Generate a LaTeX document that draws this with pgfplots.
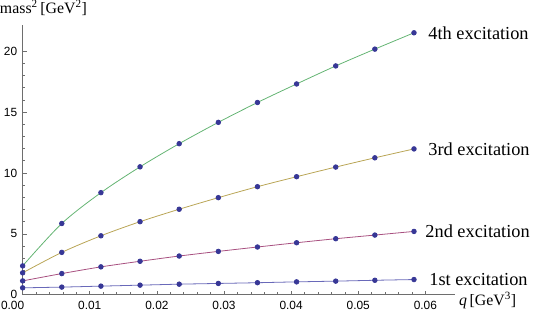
\documentclass[border=0pt]{standalone}
\usepackage{fontspec}
\setmainfont{Liberation Serif}
\setsansfont{Liberation Sans}
\usepackage{pgfplots}
\pgfplotsset{compat=1.18}
\definecolor{c1}{RGB}{105,105,185}
\definecolor{c2}{RGB}{168,80,128}
\definecolor{c3}{RGB}{185,165,85}
\definecolor{c4}{RGB}{100,180,115}
\definecolor{mk}{RGB}{55,55,150}
\definecolor{ax}{RGB}{110,110,110}
\begin{document}
\begin{tikzpicture}
\begin{axis}[
  scale only axis, width=435bp, height=271bp,
  xmin=0, xmax=0.0644, ymin=0, ymax=22.1,
  axis x line*=bottom, axis y line*=left,
  axis line style={ax, line width=0.8bp},
  clip=false,
  scaled x ticks=false, scaled y ticks=false,
  tick align=inside,
  major tick length=4bp, minor tick length=2.5bp,
  every tick/.style={ax, line width=0.6bp},
  xtick={0,0.01,0.02,0.03,0.04,0.05,0.06},
  xticklabels={\llap{0.00\hspace{-1.5bp}},0.01,0.02,0.03,0.04,0.05,0.06},
  ytick={0,5,10,15,20},
  yticklabels={0,5,10,15,20},
  minor x tick num=4, minor y tick num=4,
  ticklabel style={font=\sffamily\fontsize{12}{14}\selectfont, black},
  xticklabel style={yshift=-3bp},
  yticklabel style={xshift=-2bp},
  /pgf/number format/assume math mode=true,
]
\addplot[c1, line width=0.8bp, smooth, mark=*, mark size=2.3bp, mark options={draw=mk, fill=mk}] coordinates {
(0,0.57) (0.00583,0.63) (0.01166,0.71) (0.01749,0.79) (0.02332,0.87) (0.02915,0.93) (0.03498,0.99) (0.04081,1.06) (0.04664,1.12) (0.05247,1.19) (0.0583,1.25)};
\addplot[c2, line width=0.8bp, smooth, mark=*, mark size=2.3bp, mark options={draw=mk, fill=mk}] coordinates {
(0,1.14) (0.00583,1.74) (0.01166,2.29) (0.01749,2.75) (0.02332,3.18) (0.02915,3.56) (0.03498,3.92) (0.04081,4.27) (0.04664,4.60) (0.05247,4.90) (0.0583,5.20)};
\addplot[c3, line width=0.8bp, smooth, mark=*, mark size=2.3bp, mark options={draw=mk, fill=mk}] coordinates {
(0,1.80) (0.00583,3.48) (0.01166,4.84) (0.01749,6.00) (0.02332,7.02) (0.02915,7.97) (0.03498,8.87) (0.04081,9.69) (0.04664,10.48) (0.05247,11.24) (0.0583,11.97)};
\addplot[c4, line width=0.8bp, smooth, mark=*, mark size=2.3bp, mark options={draw=mk, fill=mk}] coordinates {
(0,2.37) (0.00583,5.85) (0.01166,8.38) (0.01749,10.50) (0.02332,12.40) (0.02915,14.15) (0.03498,15.78) (0.04081,17.30) (0.04664,18.78) (0.05247,20.16) (0.0583,21.50)};
\begin{scope}[font=\fontsize{18.5}{21}\selectfont]
\node[anchor=west, xshift=11bp] at (axis cs:0.0583,21.50) {4th excitation};
\node[anchor=west, xshift=11bp] at (axis cs:0.0583,11.97) {3rd excitation};
\node[anchor=west, xshift=8bp] at (axis cs:0.0583,5.20) {2nd excitation};
\node[anchor=west, xshift=12bp] at (axis cs:0.0583,1.25) {1st excitation};
\end{scope}
\node[anchor=base west, inner sep=0pt, xshift=-23bp, yshift=12bp, font=\fontsize{16}{18}\selectfont] at (rel axis cs:0,1) {mass\textsuperscript{2}\,[GeV\textsuperscript{2}]};
\node[anchor=west, inner sep=0pt, xshift=4bp, yshift=-6bp, font=\fontsize{16}{18}\selectfont] at (rel axis cs:1,0) {\textit{q}\,[GeV\textsuperscript{3}]};
\end{axis}
\end{tikzpicture}
\end{document}
